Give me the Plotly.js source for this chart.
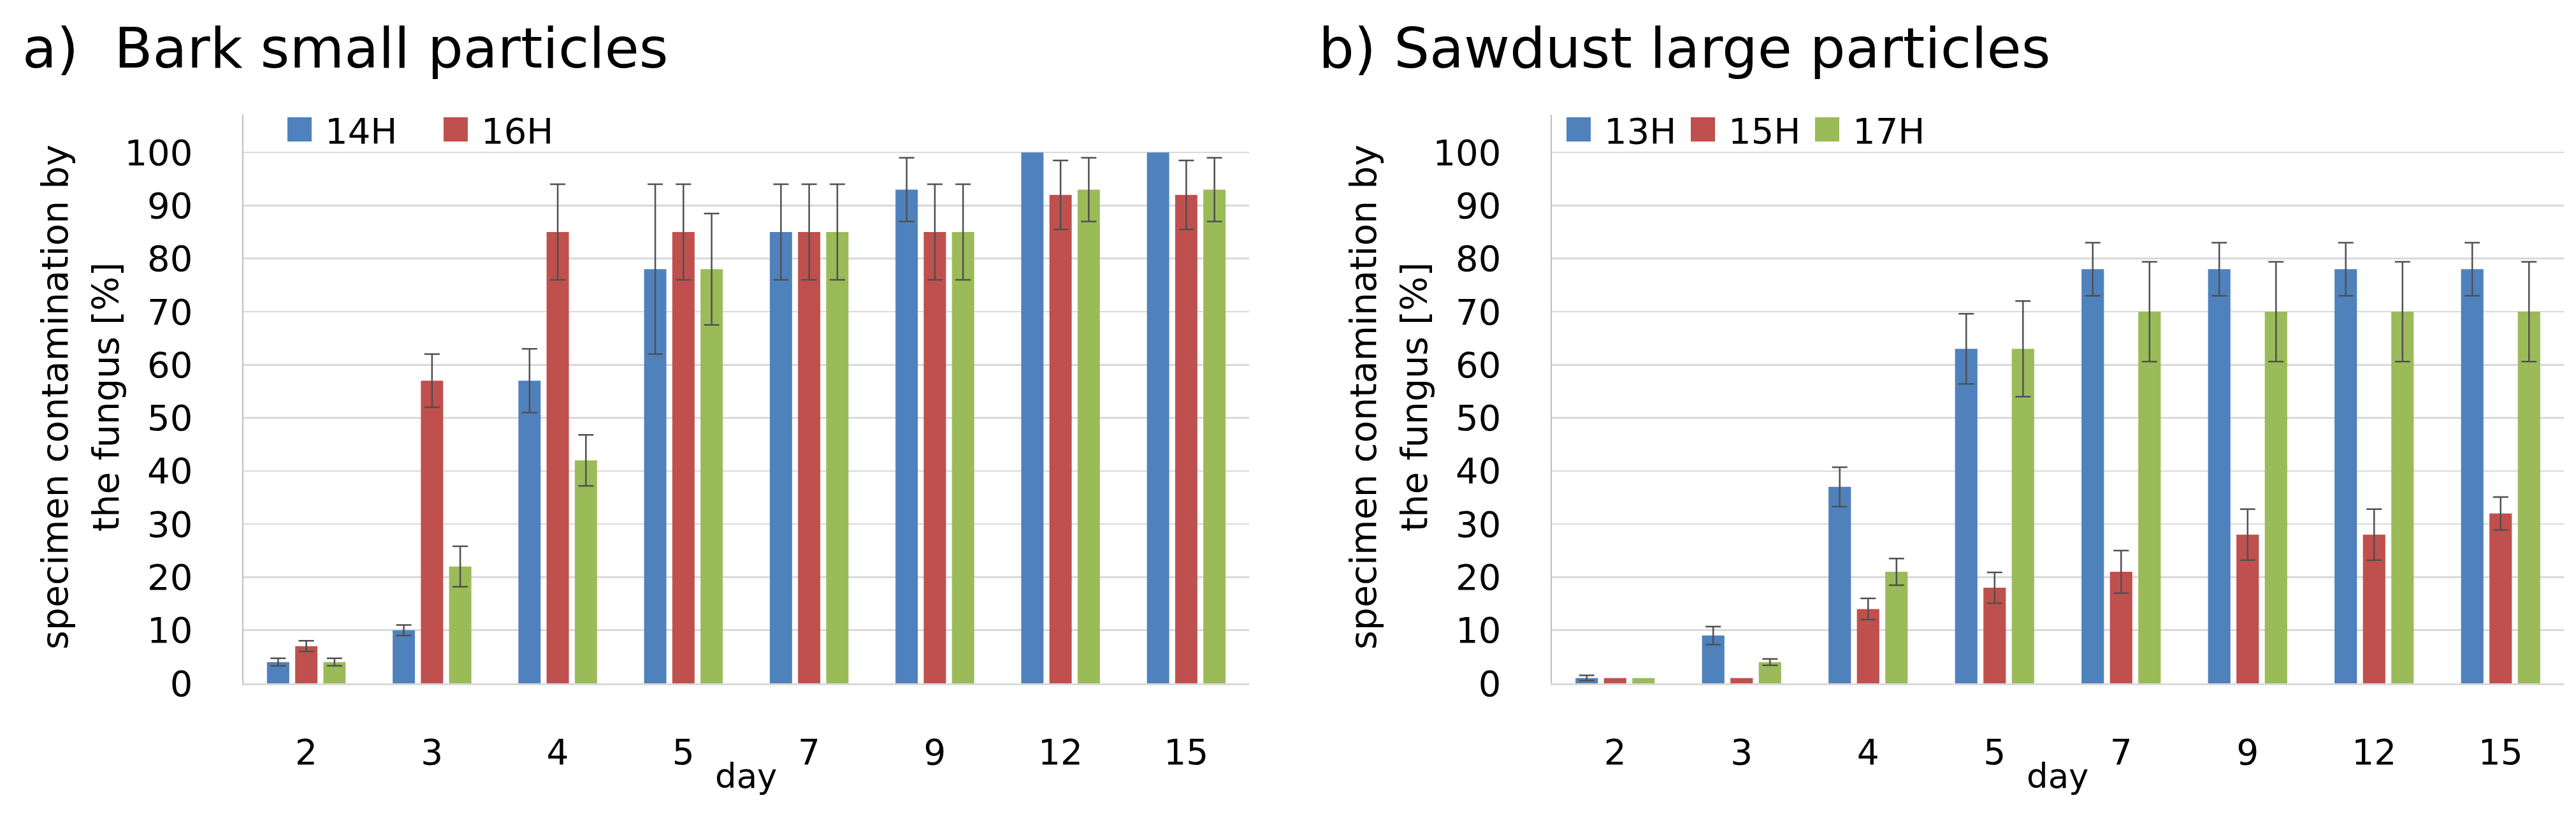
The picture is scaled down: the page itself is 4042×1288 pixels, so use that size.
<!DOCTYPE html>
<html><head><meta charset="utf-8">
<script src="https://cdn.plot.ly/plotly-3.0.1.min.js"></script>
<style>html,body{margin:0;padding:0;background:#fff;} #chart{width:4042px;height:1288px;}</style>
</head><body><div id="chart"></div>
<script>
// ---- data ----
const days = ['2', '3', '4', '5', '7', '9', '12', '15'];

// a) Bark small particles
const barkNames = ['14H', '16H', ''];
const bark14H = [4, 10, 57, 78, 85, 93, 100, 100];
const bark14HErr = [0.7, 1, 6, 16, 9, 6, 0, 0];
const bark16H = [7, 57, 85, 85, 85, 85, 92, 92];
const bark16HErr = [1, 5, 9, 9, 9, 9, 6.5, 6.5];
const barkThird = [4, 22, 42, 78, 85, 85, 93, 93];
const barkThirdErr = [0.7, 3.8, 4.8, 10.5, 9, 9, 6, 6];

// b) Sawdust large particles
const sawNames = ['13H', '15H', '17H'];
const saw13H = [1, 9, 37, 63, 78, 78, 78, 78];
const saw13HErr = [0.5, 1.7, 3.7, 6.6, 5, 5, 5, 5];
const saw15H = [1, 1, 14, 18, 21, 28, 28, 32];
const saw15HErr = [0, 0, 2, 2.9, 4, 4.8, 4.8, 3.1];
const saw17H = [1, 4, 21, 63, 70, 70, 70, 70];
const saw17HErr = [0, 0.6, 2.5, 9, 9.4, 9.4, 9.4, 9.4];

const yTicks = [0, 10, 20, 30, 40, 50, 60, 70, 80, 90, 100];

// ---- layout helpers ----
const W = 4042, H = 1288;
const px = v => v / W;
const py = v => 1 - v / H;
const FONT = 'DejaVu Sans, Verdana, sans-serif';
const COLORS = ['#4F81BD', '#C0504D', '#9BBB59'];

function barTrace(y, err, i, name, xa, ya, legend, show) {
  return {
    type: 'bar', x: days, y: y, name: name, xaxis: xa, yaxis: ya,
    legend: legend, showlegend: show,
    marker: {color: COLORS[i], line: {width: 0}},
    error_y: {type: 'data', array: err.map(e => e > 0 ? e : NaN), visible: true,
              color: '#505050', thickness: 2.5, width: 12},
    hoverinfo: 'skip'
  };
}

const data = [
  barTrace(bark14H, bark14HErr, 0, barkNames[0], 'x', 'y', 'legend', true),
  barTrace(bark16H, bark16HErr, 1, barkNames[1], 'x', 'y', 'legend', true),
  barTrace(barkThird, barkThirdErr, 2, barkNames[2], 'x', 'y', 'legend', false),
  barTrace(saw13H, saw13HErr, 0, sawNames[0], 'x2', 'y2', 'legend2', true),
  barTrace(saw15H, saw15HErr, 1, sawNames[1], 'x2', 'y2', 'legend2', true),
  barTrace(saw17H, saw17HErr, 2, sawNames[2], 'x2', 'y2', 'legend2', true)
];

function xAxis(l, r, anchor) {
  return {domain: [px(l), px(r)], type: 'category', anchor: anchor,
    showline: true, linecolor: '#D9D9D9', linewidth: 3, ticks: '', showgrid: false,
    zeroline: false, tickfont: {family: FONT, size: 55, color: '#000'},
    ticklabelstandoff: 58, fixedrange: true};
}
function yAxis(anchor) {
  return {domain: [py(1072), py(180)], range: [0, 107.1], anchor: anchor,
    tickmode: 'array', tickvals: yTicks, ticktext: yTicks.map(String),
    showgrid: true, gridcolor: '#D9D9D9', gridwidth: 2.5,
    showline: true, linecolor: '#BFBFBF', linewidth: 2.5, zeroline: false, ticks: '',
    tickfont: {family: FONT, size: 56, color: '#000'}, ticklabelstandoff: 66, fixedrange: true};
}
function legendBox(x, entry) {
  return {orientation: 'h', x: px(x), xanchor: 'left', y: py(203), yanchor: 'middle',
    font: {family: FONT, size: 56, color: '#000'}, itemwidth: 70,
    entrywidth: entry, entrywidthmode: 'pixels',
    bgcolor: 'rgba(0,0,0,0)', borderwidth: 0, traceorder: 'normal'};
}

const ann = (text, x, y, size, opts) => Object.assign({
  text: text, x: px(x), y: py(y), xref: 'paper', yref: 'paper', showarrow: false,
  font: {family: FONT, size: size, color: '#000'}, xanchor: 'center', yanchor: 'middle'
}, opts || {});

const layout = {
  width: W, height: H, autosize: false,
  margin: {l: 0, r: 0, t: 0, b: 0, pad: 0},
  paper_bgcolor: '#fff', plot_bgcolor: '#fff',
  font: {family: FONT, color: '#000'},
  barmode: 'group', bargap: 0.327, bargroupgap: 0.21,
  xaxis: xAxis(382, 1960, 'y'),
  yaxis: yAxis('x'),
  xaxis2: xAxis(2435, 4023, 'y2'),
  yaxis2: yAxis('x2'),
  legend: legendBox(430, 160),
  legend2: legendBox(2437, 110),
  annotations: [
    ann('a)\u00a0\u00a0Bark small particles', 33, 76, 88, {xanchor: 'left'}),
    ann('b) Sawdust large particles', 2067, 76, 88, {xanchor: 'left'}),
    ann('specimen contamination by', 86, 623, 57, {textangle: -90}),
    ann('the fungus [%]', 166, 623, 57, {textangle: -90}),
    ann('specimen contamination by', 2139, 623, 57, {textangle: -90}),
    ann('the fungus [%]', 2219, 623, 57, {textangle: -90}),
    ann('day', 1171, 1217, 53),
    ann('day', 3229, 1217, 53)
  ]
};

Plotly.newPlot('chart', data, layout, {staticPlot: true, displayModeBar: false}).then(gd => {
  gd.querySelectorAll('g.legendpoints path').forEach(p => p.setAttribute('d', 'M19,19H-19V-19H19Z'));
});
</script>
</body></html>
